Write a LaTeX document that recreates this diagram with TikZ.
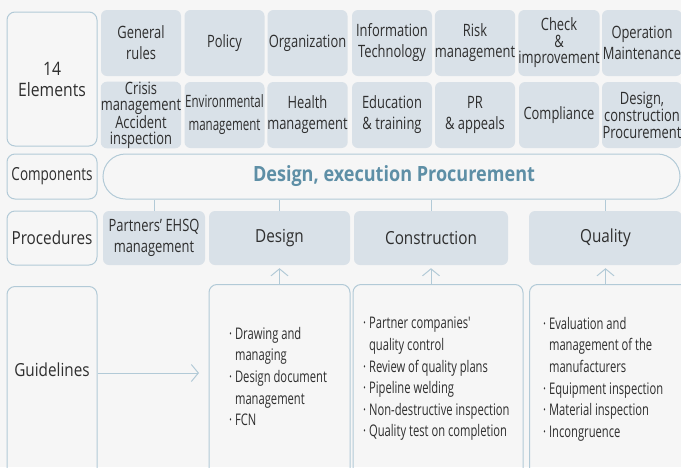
\documentclass[tikz,border=0pt]{standalone}
\usepackage{fontspec}
\setmainfont{Open Sans}[FakeStretch=0.76]
\newfontfamily\hdrfont{Open Sans}[FakeStretch=0.85]
\newfontfamily\compfont{Open Sans}[FakeStretch=0.75]
\newfontfamily\glfont{Open Sans}[FakeStretch=0.7]
\newfontfamily\pillfont{Open Sans}[FakeStretch=0.86]
\newfontfamily\procfont{Open Sans}[FakeStretch=0.85]
\newfontfamily\envfont{Open Sans}[FakeStretch=0.68]
\usetikzlibrary{arrows.meta}
\definecolor{bg}{HTML}{F6F6F6}
\definecolor{cellfill}{HTML}{D9E1E8}
\definecolor{edge}{HTML}{B2CAD7}
\definecolor{txt}{HTML}{2E2E2E}
\definecolor{accent}{HTML}{5E8FA6}
\begin{document}
\begin{tikzpicture}[x=1pt,y=-1pt,
  cell/.style={fill=cellfill, rounded corners=6pt, text=txt, align=center, inner sep=0pt,
    font=\fontsize{17}{21}\selectfont},
  proccell/.style={cell, minimum height=54pt, font=\procfont\fontsize{18}{21}\selectfont},
  hdr/.style={draw=edge, line width=1pt, rounded corners=8pt, text=txt, align=center, inner sep=0pt,
    minimum width=90pt},
  gbox/.style={draw=edge, line width=1pt, rounded corners=8pt, inner sep=0pt},
  glist/.style={text=txt, align=left, inner sep=0pt, anchor=north west,
    font=\glfont\fontsize{16}{21.6}\selectfont},
  conn/.style={draw=edge, line width=1pt},
  arr/.style={draw=edge, line width=1pt, -{Straight Barb[length=7pt,width=17pt]}},
]
\fill[bg] (0,0) rectangle (681,467);
\useasboundingbox (0,0) rectangle (681,467);
\begin{scope}
\clip (0,0) rectangle (681,467);
% row headers
\node[hdr, minimum height=134pt, font=\hdrfont\fontsize{18.5}{21}\selectfont] (elem) at (52,79) {14\\Elements};
\node[hdr, minimum height=45pt, font=\compfont\fontsize{18}{20}\selectfont] (comp) at (52,176.5) {Components};
\node[hdr, minimum height=54pt, font=\hdrfont\fontsize{18}{20}\selectfont] (proc) at (52,238) {Procedures};
\node[gbox, minimum width=90pt, minimum height=200pt, anchor=north] (guide) at (52,286) {};
\node[text=txt, font=\hdrfont\fontsize{18}{20}\selectfont] (guidetxt) at (52,370) {Guidelines};
% elements row 1
\foreach \n/\x/\t in {a1/141/{General\\rules}, a2/224.5/Policy, a3/307.5/Organization,
  a4/392/{Information\\Technology}, a5/475/{Risk\\management}, a7/642/{Operation\\Maintenance}}
  \node[cell, minimum width=80pt, minimum height=66pt] (\n) at (\x,43) {\t};
\node[cell, minimum width=80pt, minimum height=66pt, font=\fontsize{17}{16.5}\selectfont] (a6) at (559,43) {Check\\\&\\improvement};
% elements row 2
\node[cell, minimum width=80pt, minimum height=66pt, font=\fontsize{17}{16}\selectfont] (b1) at (141,115) {Crisis\\management\\Accident\\inspection};
\node[cell, minimum width=80pt, minimum height=66pt, font=\envfont\fontsize{17}{23}\selectfont] (b2) at (224.5,115) {Environmental\\management};
\foreach \n/\x/\t in {b3/307.5/{Health\\management},
  b4/392/{Education\\\& training}, b5/475/{PR\\\& appeals}, b6/559/Compliance}
  \node[cell, minimum width=80pt, minimum height=66pt] (\n) at (\x,115) {\t};
\node[cell, minimum width=80pt, minimum height=66pt, font=\fontsize{17}{17}\selectfont] (b7) at (642,115) {Design,\\construction\\Procurement};
% components pill
\node[draw=edge, line width=1pt, rounded corners=22.5pt, minimum width=577pt, minimum height=45pt,
  inner sep=0pt, text=accent, font=\pillfont\bfseries\fontsize{21}{24}\selectfont] (pill) at (391.5,176.5)
  {\hspace*{5pt}Design, execution Procurement};
% procedures
\node[cell, minimum width=102pt, minimum height=54pt] (p0) at (154,238) {Partners' EHSQ\\management};
\node[proccell, minimum width=141pt] (p1) at (279.5,238) {Design};
\node[proccell, minimum width=154pt] (p2) at (431,238) {Construction};
\node[proccell, minimum width=153pt] (p3) at (605.5,238) {Quality};
\foreach \p in {p0,p1,p2,p3}
  \draw[conn] (\p.north) -- (\p.north |- pill.south);
% guideline boxes
\node[gbox, minimum width=141pt, minimum height=200pt, anchor=north] (g1) at (279.5,284) {};
\node[gbox, minimum width=170pt, minimum height=200pt, anchor=north] (g2) at (438,284) {};
\node[gbox, minimum width=165pt, minimum height=200pt, anchor=north west] (g3) at (529,284) {};
\draw[arr, shorten >=3pt] (p1.south |- g1.north) -- (p1.south);
\draw[arr, shorten >=3pt] (p2.south |- g2.north) -- (p2.south);
\draw[arr, shorten >=3pt] (p3.south |- g3.north) -- (p3.south);
\coordinate (gtip) at (199,373);
\draw[arr] (guide.east |- gtip) -- (gtip);
% guideline texts
\node[glist] (t1) at (229,327) {· Drawing and\\\hphantom{· }managing\\· Design document\\\hphantom{· }management\\· FCN};
\node[glist] (t2) at (363,317) {· Partner companies'\\\hphantom{· }quality control\\· Review of quality plans\\· Pipeline welding\\· Non-destructive inspection\\· Quality test on completion};
\node[glist] (t3) at (543,317) {· Evaluation and\\\hphantom{· }management of the\\\hphantom{· }manufacturers\\· Equipment inspection\\· Material inspection\\· Incongruence};
\end{scope}
\end{tikzpicture}
\end{document}
